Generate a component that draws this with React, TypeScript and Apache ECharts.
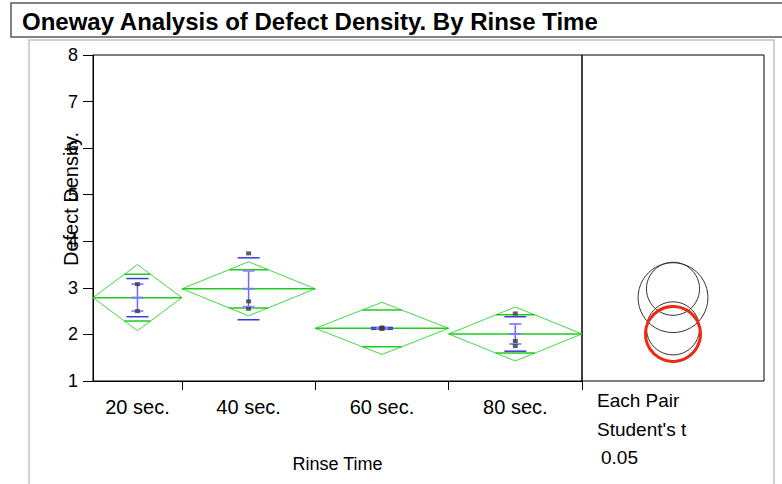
import React, { useEffect, useRef } from "react";
import * as echarts from "echarts";

// ---- data ----
const categories = ["20 sec.", "40 sec.", "60 sec.", "80 sec."];
const groupSizes = [2, 3, 3, 3];
const means = [2.79, 2.98, 2.13, 2.01];
const ciHalf = [0.71, 0.58, 0.56, 0.58];
const stdDev = [0.41, 0.665, 0.02, 0.37];
const stdErr = [0.29, 0.386, 0.012, 0.215];
const points20 = [3.08, 2.5];
const points40 = [3.74, 2.71, 2.55];
const points60 = [2.15, 2.12, 2.13];
const points80 = [2.45, 1.86, 1.75];
const circleRadius = [0.75, 0.57, 0.57, 0.59];
const circleSelected = [false, false, false, true];
const yTicks = [1, 2, 3, 4, 5, 6, 7, 8];
const panelTexts = ["Each Pair", "Student's t", "0.05"];

const FONT = "'Liberation Sans', Arial, sans-serif";

export default function App() {
  const ref = useRef<HTMLDivElement>(null);
  useEffect(() => {
    if (!ref.current) return;
    const chart = echarts.init(ref.current, undefined, { renderer: "svg" });

    const bounds: number[] = [0];
    groupSizes.forEach((n, i) => bounds.push(bounds[i] + n));
    const centers = groupSizes.map((_, i) => (bounds[i] + bounds[i + 1]) / 2);
    const total = bounds[bounds.length - 1];

    const diamondData = categories.map((_, i) => [
      bounds[i],
      bounds[i + 1],
      means[i],
      ciHalf[i],
      stdDev[i],
      stdErr[i],
    ]);
    const allPoints = [points20, points40, points60, points80];
    const scatterData: number[][] = [];
    allPoints.forEach((arr, i) => arr.forEach((v) => scatterData.push([centers[i], v])));

    const circleData = categories.map((_, i) => [0.5, means[i], circleRadius[i], circleSelected[i] ? 1 : 0]);

    const green = "#3fdc3f";
    const greenDark = "#1ecb1e";

    const option: any = {
      animation: false,
      grid: [
        { left: 93, top: 55, width: 489, height: 326, show: true, borderColor: "#000", borderWidth: 1, backgroundColor: "transparent" },
        { left: 582, top: 55, width: 182, height: 326, show: true, borderColor: "#000", borderWidth: 1, backgroundColor: "transparent" },
      ],
      xAxis: [
        {
          type: "value",
          gridIndex: 0,
          min: 0,
          max: total,
          splitLine: { show: false },
          axisLine: { show: true, lineStyle: { color: "#000" } },
          axisTick: { show: true, length: 9, customValues: bounds.slice(1), lineStyle: { color: "#000" } },
          axisLabel: {
            customValues: centers,
            margin: 16,
            color: "#000",
            fontSize: 20,
            fontFamily: FONT,
            formatter: (v: number) => {
              const idx = centers.findIndex((c) => Math.abs(c - v) < 1e-6);
              return idx >= 0 ? categories[idx] : "";
            },
          },
          name: "Rinse Time",
          nameLocation: "middle",
          nameGap: 74,
          nameTextStyle: { color: "#000", fontSize: 18, fontFamily: FONT },
        },
        {
          type: "value",
          gridIndex: 1,
          min: 0,
          max: 1,
          show: false,
        },
      ],
      yAxis: [
        {
          type: "value",
          gridIndex: 0,
          min: 1,
          max: 8,
          interval: 1,
          splitLine: { show: false },
          axisLine: { show: true, lineStyle: { color: "#000" } },
          axisTick: { show: true, length: 10, lineStyle: { color: "#000" } },
          axisLabel: {
            margin: 15,
            color: "#000",
            fontSize: 18,
            fontFamily: FONT,
            formatter: (v: number) => (yTicks.includes(v) ? String(v) : ""),
          },
        },
        {
          type: "value",
          gridIndex: 1,
          min: 1,
          max: 8,
          interval: 1,
          show: false,
        },
      ],
      series: [
        {
          type: "custom",
          xAxisIndex: 0,
          yAxisIndex: 0,
          clip: false,
          data: diamondData,
          renderItem: (params: any, api: any) => {
            const l = api.value(0), r = api.value(1), m = api.value(2);
            const ci = api.value(3), sd = api.value(4), se = api.value(5);
            const c = (l + r) / 2;
            const pL = api.coord([l, m]);
            const pR = api.coord([r, m]);
            const pT = api.coord([c, m + ci]);
            const pB = api.coord([c, m - ci]);
            const cx = pT[0];
            const k = Math.SQRT1_2;
            const halfW = ((pR[0] - pL[0]) / 2) * (1 - k);
            const yOvT = api.coord([c, m + ci * k])[1];
            const yOvB = api.coord([c, m - ci * k])[1];
            const ySdT = api.coord([c, m + sd])[1];
            const ySdB = api.coord([c, m - sd])[1];
            const ySeT = api.coord([c, m + se])[1];
            const ySeB = api.coord([c, m - se])[1];
            const ln = (x1: number, y1: number, x2: number, y2: number, stroke: string, w: number) => ({
              type: "line",
              shape: { x1, y1, x2, y2 },
              style: { stroke, lineWidth: w },
            });
            return {
              type: "group",
              children: [
                {
                  type: "polygon",
                  shape: { points: [pL, pT, pR, pB] },
                  style: { fill: "none", stroke: green, lineWidth: 1 },
                },
                ln(pL[0], pL[1], pR[0], pR[1], greenDark, 1.5),
                ln(cx - halfW, yOvT, cx + halfW, yOvT, greenDark, 1.5),
                ln(cx - halfW, yOvB, cx + halfW, yOvB, greenDark, 1.5),
                ln(cx - 11, ySdT, cx + 11, ySdT, "#3a3ae0", 1.5),
                ln(cx - 11, ySdB, cx + 11, ySdB, "#3a3ae0", 1.5),
                ln(cx, ySeT, cx, ySeB, "#6a6aff", 1.5),
                ln(cx - 6, ySeT, cx + 6, ySeT, "#8c8cff", 2),
                ln(cx - 6, ySeB, cx + 6, ySeB, "#8c8cff", 2),
                ln(cx - 6, pL[1], cx + 6, pL[1], "#7a7aff", 2),
              ],
            };
          },
          z: 2,
        },
        {
          type: "scatter",
          xAxisIndex: 0,
          yAxisIndex: 0,
          data: scatterData,
          symbol: "rect",
          symbolSize: [5, 4],
          itemStyle: { color: "#3a3a3a" },
          z: 3,
        },
        {
          type: "custom",
          xAxisIndex: 1,
          yAxisIndex: 1,
          clip: false,
          data: circleData,
          renderItem: (params: any, api: any) => {
            const p = api.coord([api.value(0), api.value(1)]);
            const r = api.size([0, api.value(2)])[1];
            const sel = api.value(3) === 1;
            return {
              type: "circle",
              shape: { cx: p[0], cy: p[1], r },
              style: { fill: "none", stroke: sel ? "#ee2a10" : "#333", lineWidth: sel ? 3 : 1 },
              z2: sel ? 10 : 1,
            };
          },
        },
      ],
      graphic: [
        {
          type: "rect",
          shape: { x: 11, y: 3, width: 800, height: 34 },
          style: { fill: "#fff", stroke: "#5a5a5a", lineWidth: 1.5 },
          z: -1,
        },
        {
          type: "text",
          x: 22,
          y: 21,
          style: {
            text: "Oneway Analysis of Defect Density. By Rinse Time",
            font: `bold 24px ${FONT}`,
            fill: "#000",
            textVerticalAlign: "middle",
          },
        },
        {
          type: "rect",
          shape: { x: 29, y: 40, width: 745, height: 470 },
          style: { fill: "none", stroke: "#c4c4c4", lineWidth: 1.5 },
          z: -1,
        },
        {
          type: "text",
          x: 71,
          y: 199,
          rotation: Math.PI / 2,
          style: {
            text: "Defect Density.",
            font: `20px ${FONT}`,
            fill: "#000",
            textAlign: "center",
            textVerticalAlign: "middle",
          },
        },
        {
          type: "text",
          x: 597,
          y: 400,
          style: { text: panelTexts[0], font: `19px ${FONT}`, fill: "#000", textVerticalAlign: "middle" },
        },
        {
          type: "text",
          x: 597,
          y: 429,
          style: { text: panelTexts[1], font: `19px ${FONT}`, fill: "#000", textVerticalAlign: "middle" },
        },
        {
          type: "text",
          x: 601,
          y: 457,
          style: { text: panelTexts[2], font: `19px ${FONT}`, fill: "#000", textVerticalAlign: "middle" },
        },
      ],
    };
    chart.setOption(option);
    return () => chart.dispose();
  }, []);
  return (
    <div
      ref={ref}
      style={{ position: "absolute", left: 0, top: 0, width: 782, height: 484, background: "#fff" }}
    />
  );
}
